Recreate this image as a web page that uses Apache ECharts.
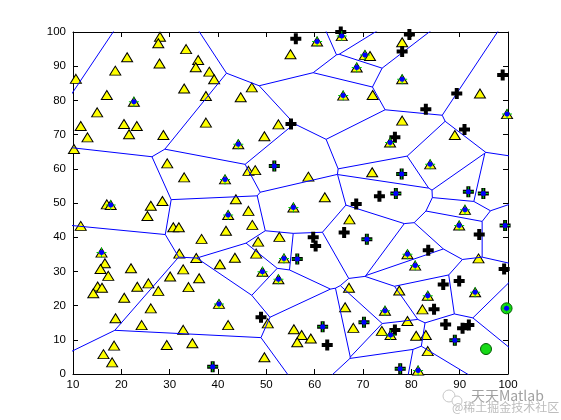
<!DOCTYPE html>
<html><head><meta charset="utf-8">
<script src="https://cdn.jsdelivr.net/npm/echarts/dist/echarts.min.js"></script>
<style>html,body{margin:0;padding:0;background:#fff}#c{width:561px;height:420px}</style>
</head><body><div id="c"></div>
<script>
// ---- axis ticks ----
const xTicks = [10,20,30,40,50,60,70,80,90,100];
const yTicks = [0,10,20,30,40,50,60,70,80,90,100];

// ---- class A: yellow triangles ----
const triX = [28.0,27.65,33.4,21.2,35.9,27.9,35.4,18.75,38.2,39.2,10.6,33.0,17.0,37.5,22.6,15.0,11.6,20.55,23.2,37.5,13.0,21.6,28.7,
  60.5,65.6,55.0,70.4,71.45,68.7,47.0,44.7,65.9,52.5,49.6,44.2,
  78.1,78.1,72.0,94.2,78.1,99.8,89.0,75.6,
  10.2,29.5,33.0,17.0,17.8,28.5,26.1,25.4,11.6,30.75,31.9,36.6,15.9,32.0,35.5,
  46.3,47.7,58.7,41.45,62.1,43.7,55.6,46.3,42.1,67.2,47.1,41.65,52.7,48.3,47.9,
  83.9,71.9,91.1,89.9,79.2,93.9,
  16.6,15.7,17.3,22.0,40.4,32.8,30.1,36.1,15.1,16.0,14.2,23.3,25.6,27.65,33.9,20.6,26.1,40.2,18.8,24.2,32.8,18.5,29.4,34.7,16.3,18.1,
  43.5,53.65,49.2,52.5,50.3,42.1,55.7,57.3,59.2,56.4,49.6,67.1,66.3,68.0,
  80.8,77.5,83.4,93.2,82.3,74.55,79.2,73.9,75.7,81.0,83.0,83.4,81.4];
const triY = [98.6,96.7,95.0,92.6,91.8,90.8,89.7,88.7,88.4,86.2,86.3,83.5,81.6,81.3,79.6,76.5,72.5,73.1,72.5,73.5,69.2,70.1,69.9,
  97.2,98.8,93.5,93.3,93.0,89.6,83.8,80.9,81.4,73.0,69.5,67.2,
  97.0,86.2,81.6,82.0,74.1,76.0,69.9,67.7,
  65.8,61.6,57.5,49.6,49.4,50.6,49.2,46.2,43.3,42.9,42.9,39.5,35.5,35.2,33.9,
  59.4,59.6,57.7,56.9,51.7,51.1,48.7,47.7,46.5,45.2,43.6,41.9,40.1,38.7,35.2,
  61.3,59.0,48.0,43.4,35.0,33.8,
  32.4,30.7,28.7,30.9,32.1,30.6,28.5,28.0,25.6,25.2,23.6,25.5,26.5,24.3,25.4,22.3,19.2,20.5,16.3,14.3,12.9,8.3,8.5,9.0,5.8,3.4,
  34.0,33.8,29.9,27.7,14.8,14.3,13.1,11.4,10.4,9.3,4.9,25.2,19.5,13.5,
  31.7,24.4,22.9,23.9,18.9,18.5,15.5,12.6,11.4,11.2,11.4,6.7,1.0];

// ---- class B: black plus ----
const plusX = [56.1,65.4,79.6,78.1,98.9,89.4,83.0,55.1,91.0,76.6,51.65,68.6,66.1,70.8,59.7,60.2,78.0,73.4,76.8,91.8,94.9,99.4,94.05,83.5,
  38.9,56.4,48.9,61.65,62.6,70.2,99.2,86.6,89.9,84.7,87.1,90.6,91.9,76.6,89.0,77.7];
const plusY = [98.0,100,99.3,94.3,87.4,82.0,77.4,73.1,71.5,69.2,60.8,49.7,41.4,39.4,40.0,37.4,58.5,52.0,52.8,53.3,52.8,43.4,40.8,36.2,
  2.1,33.6,16.6,13.8,8.5,15.1,30.7,26.2,27.2,18.9,14.5,13.4,14.3,12.9,9.9,1.5];

// ---- class C: green circles ----
const circX = [95.45,99.7];
const circY = [7.3,19.2];

// ---- Voronoi generator points (blue dot + green cross) ----
const genX = [22.6,60.5,65.6,70.4,68.7,65.9,44.2,78.1,99.8,75.6,17.8,15.9,51.65,41.45,55.6,42.1,70.8,83.9,78.0,76.8,91.8,94.9,91.1,89.9,99.4,
  79.2,40.2,38.9,53.65,56.4,49.2,52.5,61.65,70.2,80.8,83.4,93.2,74.55,99.7,75.7,89.0,77.7,81.4,-0.2];
const genY = [79.6,97.2,98.8,93.3,89.6,81.4,67.2,86.2,76.0,67.7,49.4,35.5,60.8,56.9,48.7,46.5,39.4,61.3,58.5,52.8,53.3,52.8,48.0,43.4,43.4,
  35.0,20.5,2.1,33.8,33.6,29.9,27.7,13.8,15.1,31.7,22.9,23.9,18.5,19.2,11.4,9.9,1.5,1.0,90.4];

function voronoiEdges(px, py) {
  const n = px.length, B = 1000, segs = [];
  for (let i = 0; i < n; i++) {
    let V = [[-B,-B],[B,-B],[B,B],[-B,B]], E = [-1,-1,-1,-1];
    for (let j = 0; j < n; j++) {
      if (j === i) continue;
      const nx = px[j]-px[i], ny = py[j]-py[i];
      const mx = (px[i]+px[j])/2, my = (py[i]+py[j])/2;
      const f = p => (p[0]-mx)*nx + (p[1]-my)*ny;
      const out = [], lab = [];
      for (let k = 0; k < V.length; k++) {
        const a = V[k], b = V[(k+1)%V.length], L = E[k];
        const da = f(a), db = f(b), ain = da <= 0, bin = db <= 0;
        if (ain) { out.push(a); lab.push(L); }
        if (ain !== bin) {
          const t = da/(da-db);
          out.push([a[0]+t*(b[0]-a[0]), a[1]+t*(b[1]-a[1])]);
          lab.push(ain ? j : L);
        }
      }
      V = out; E = lab;
      if (!V.length) break;
    }
    for (let k = 0; k < V.length; k++) if (E[k] > i) segs.push([V[k], V[(k+1)%V.length]]);
  }
  return segs;
}

const zip = (a, b) => a.map((v, i) => [v, b[i]]);
const segs = voronoiEdges(genX, genY);

const FONT = 'Liberation Sans';
const axisCommon = {
  type: 'value', min: xTicks[0], max: xTicks[xTicks.length-1], interval: xTicks[1]-xTicks[0],
  axisLine: { show: true, onZero: false, lineStyle: { color: '#000', width: 1 } },
  axisTick: { show: true, inside: true, length: 5, lineStyle: { color: '#000' } },
  splitLine: { show: false }
};
const yCommon = Object.assign({}, axisCommon, { min: yTicks[0], max: yTicks[yTicks.length-1], interval: yTicks[1]-yTicks[0] });

const series = [];
series.push({ type: 'scatter', data: zip(triX, triY), symbol: 'triangle', symbolSize: [11, 9],
  itemStyle: { color: '#ffff00', borderColor: '#000', borderWidth: 1, opacity: 1 }, silent: true, z: 2 });
segs.forEach(s => series.push({ type: 'line', data: s, symbol: 'none', showSymbol: false, silent: true, clip: true,
  lineStyle: { color: '#0000ff', width: 1 }, z: 3 }));
series.push({ type: 'scatter', data: zip(plusX, plusY), symbolSize: 11,
  symbol: 'path://M3.5,0H7.5V3.5H11V7.5H7.5V11H3.5V7.5H0V3.5H3.5Z',
  itemStyle: { color: '#000', opacity: 1 }, silent: true, z: 4 });
series.push({ type: 'scatter', data: zip(circX, circY), symbol: 'circle', symbolSize: 11,
  itemStyle: { color: '#16d916', borderColor: '#005a00', borderWidth: 1, opacity: 1 }, silent: true, z: 4 });
series.push({ type: 'scatter', data: zip(genX, genY), symbolSize: 10,
  symbol: 'path://M4.5,0H5.5V4.5H10V5.5H5.5V10H4.5V5.5H0V4.5H4.5Z',
  itemStyle: { color: '#00d000', opacity: 1 }, silent: true, z: 5 });
series.push({ type: 'scatter', data: zip(genX, genY), symbol: 'circle', symbolSize: 5,
  itemStyle: { color: '#0000ff', opacity: 1 }, silent: true, z: 6 });

const chart = echarts.init(document.getElementById('c'), null, { renderer: 'canvas' });
chart.setOption({
  animation: false,
  backgroundColor: '#fff',
  grid: { left: 73, right: 53, top: 32, bottom: 46, containLabel: false },
  xAxis: [
    Object.assign({}, axisCommon, { position: 'bottom',
      axisLabel: { show: true, margin: 5, color: '#000', fontSize: 11.5, fontFamily: FONT } }),
    Object.assign({}, axisCommon, { position: 'top', axisLabel: { show: false } })
  ],
  yAxis: [
    Object.assign({}, yCommon, { position: 'left',
      axisLabel: { show: true, margin: 7, color: '#000', fontSize: 11.5, fontFamily: FONT } }),
    Object.assign({}, yCommon, { position: 'right', axisLabel: { show: false } })
  ],
  series: series,
  graphic: [
    { type: 'circle', shape: { cx: 449, cy: 396, r: 6 }, style: { fill: '#fff', stroke: '#c8c8c8', lineWidth: 1 }, z: 100 },
    { type: 'circle', shape: { cx: 457, cy: 401, r: 5 }, style: { fill: '#fff', stroke: '#c8c8c8', lineWidth: 1 }, z: 100 },
    { type: 'text', left: 470, top: 388, z: 100,
      style: { text: '天天Matlab', font: '14px "Noto Sans CJK SC"', fill: '#a0a0a0', stroke: '#fff', lineWidth: 2 } },
    { type: 'text', left: 452, top: 401, z: 100,
      style: { text: '@稀土掘金技术社区', font: '12px "Noto Sans CJK SC"', fill: '#bdbdbd' } }
  ]
});
</script>
</body></html>
